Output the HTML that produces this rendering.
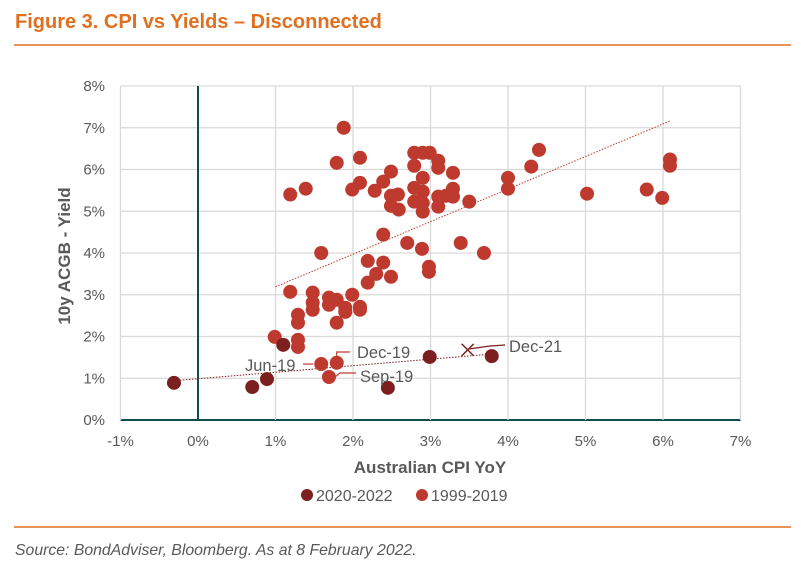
<!DOCTYPE html>
<html><head><meta charset="utf-8"><style>
body{margin:0;background:#fff;font-family:"Liberation Sans",Arial,sans-serif}
svg text{font-family:"Liberation Sans",Arial,sans-serif}
</style></head><body>
<svg id="c" width="805" height="576" xmlns="http://www.w3.org/2000/svg">
<text x="15" y="28" font-size="20" font-weight="bold" fill="#e07020">Figure 3. CPI vs Yields – Disconnected</text>
<line x1="14" y1="45" x2="791" y2="45" stroke="#e07020" stroke-width="1.5"/>
<line x1="14" y1="527" x2="791" y2="527" stroke="#e07020" stroke-width="1.5"/>
<text x="15" y="555" font-size="15.8" font-style="italic" fill="#595959">Source: BondAdviser, Bloomberg. As at 8 February 2022.</text>
<g id="grid"></g><g id="marks"></g>
</svg>
<script>
const xTicks=[-1,0,1,2,3,4,5,6,7];
const yTicks=[0,1,2,3,4,5,6,7,8];
const redX=[1.88,1.79,2.09,1.19,1.39,1.99,2.09,2.28,2.39,2.49,2.49,2.58,2.49,2.59,2.79,2.90,2.99,3.10,3.10,2.79,2.90,2.79,2.90,2.79,2.90,2.90,3.10,3.10,3.20,3.29,3.29,3.29,3.50,4.00,4.00,4.30,4.40,5.02,5.79,5.99,6.09,6.09,2.39,2.70,2.89,3.39,3.69,1.59,2.19,2.39,2.30,2.49,2.19,2.98,2.98,1.19,1.48,1.48,1.48,1.69,1.79,1.69,1.90,1.90,1.99,2.09,2.09,1.79,1.29,1.29,0.99,1.29,1.29,1.59,1.79,1.69];
const redY=[7.00,6.16,6.28,5.40,5.54,5.52,5.68,5.49,5.71,5.95,5.37,5.40,5.13,5.04,6.40,6.40,6.40,6.21,6.04,6.09,5.80,5.56,5.47,5.23,5.20,4.99,5.35,5.11,5.37,5.54,5.35,5.92,5.23,5.80,5.54,6.07,6.47,5.42,5.52,5.32,6.24,6.09,4.44,4.24,4.10,4.24,4.00,4.00,3.81,3.77,3.50,3.43,3.29,3.67,3.55,3.07,3.05,2.81,2.64,2.93,2.88,2.76,2.69,2.59,3.00,2.71,2.64,2.33,2.52,2.33,1.99,1.92,1.75,1.34,1.37,1.03];
const darkX=[-0.31,0.70,0.89,1.10,2.45,2.99,3.79];
const darkY=[0.89,0.79,0.98,1.80,0.77,1.51,1.53];
const trendRedX=[1.0,6.1], trendRedY=[3.19,7.17];
const trendDarkX=[-0.31,3.79], trendDarkY=[0.94,1.58];
const dec21=[3.48,1.68];
const X=v=>198+v*77.5, Y=v=>420-v*41.75;
const NS='http://www.w3.org/2000/svg';
function mk(t,a,p){const e=document.createElementNS(NS,t);for(const k in a)e.setAttribute(k,a[k]);p.appendChild(e);return e;}
const g=document.getElementById('grid'), m=document.getElementById('marks');
yTicks.forEach(t=>{
 const l=mk('line',{x1:X(-1),x2:X(7),y1:Y(t),y2:Y(t),stroke:t===0?'#0d4f4f':'#d9d9d9','stroke-width':t===0?2:1.3},g);
 
 
 const tx=mk('text',{x:105,y:Y(t)+5,'text-anchor':'end','font-size':15,fill:'#595959'},g);tx.textContent=t+'%';
 
 
});
xTicks.forEach(t=>{
 const l=mk('line',{x1:X(t),x2:X(t),y1:Y(0),y2:Y(8),stroke:t===0?'#0d4f4f':'#d9d9d9','stroke-width':t===0?2:1.3},g);
 
 
 const tx=mk('text',{x:X(t),y:446,'text-anchor':'middle','font-size':15,fill:'#595959'},g);tx.textContent=t+'%';
 
 
});
let at=mk('text',{x:430,y:473,'text-anchor':'middle','font-size':17,'font-weight':'bold',fill:'#595959'},g);at.textContent='Australian CPI YoY';


at=mk('text',{x:0,y:0,transform:'translate(70,256) rotate(-90)','text-anchor':'middle','font-size':17,'font-weight':'bold',fill:'#595959'},g);at.textContent='10y ACGB - Yield';


let tl=mk('line',{x1:X(trendRedX[0]),y1:Y(trendRedY[0]),x2:X(trendRedX[1]),y2:Y(trendRedY[1]),stroke:'#c0392b','stroke-width':1,'stroke-dasharray':'1.5 1.5'},m);


tl=mk('line',{x1:X(trendDarkX[0]),y1:Y(trendDarkY[0]),x2:X(trendDarkX[1]),y2:Y(trendDarkY[1]),stroke:'#7b1f1f','stroke-width':1,'stroke-dasharray':'1.5 1.5'},m);


redX.forEach((x,i)=>{const c=mk('circle',{cx:X(x),cy:Y(redY[i]),r:7,fill:'#be3a2e'},m);
 
 });
darkX.forEach((x,i)=>{const c=mk('circle',{cx:X(x),cy:Y(darkY[i]),r:7,fill:'#7b1f1f'},m);
 
 });
const dx=X(dec21[0]),dy=Y(dec21[1]);
const xm=mk('path',{d:`M${dx-6} ${dy-6}L${dx+6} ${dy+6}M${dx-6} ${dy+6}L${dx+6} ${dy-6}`,stroke:'#7b1f1f','stroke-width':1.5,fill:'none'},m);


function ann(txt,tx,ty,path,col){const p=mk('path',{d:path,stroke:col,'stroke-width':1.2,fill:'none'},m);
 
 
 const t=mk('text',{x:tx,y:ty,'font-size':16.5,fill:'#595959'},m);t.textContent=txt;
 
 }
ann('Dec-19',357,358,`M${X(1.79)} ${Y(1.37)-6}L${X(1.79)} 352L350 352`,'#be3a2e');
ann('Jun-19',245,371,`M${X(1.59)-8} ${Y(1.34)}L303 ${Y(1.34)}`,'#be3a2e');
ann('Sep-19',360,382,`M${X(1.69)+6} ${Y(1.03)}L340 373L356 373`,'#be3a2e');
ann('Dec-21',509,352,`M${dx+2} ${dy-1}L490 346L505 345`,'#7b1f1f');
const lg=[['2020-2022','#7b1f1f',307],['1999-2019','#be3a2e',422]];
lg.forEach(l=>{const c=mk('circle',{cx:l[2],cy:495,r:6,fill:l[1]},m);
 
 
 const t=mk('text',{x:l[2]+9,y:501,'font-size':16,fill:'#595959'},m);t.textContent=l[0];
 
 });
</script>
</body></html>
